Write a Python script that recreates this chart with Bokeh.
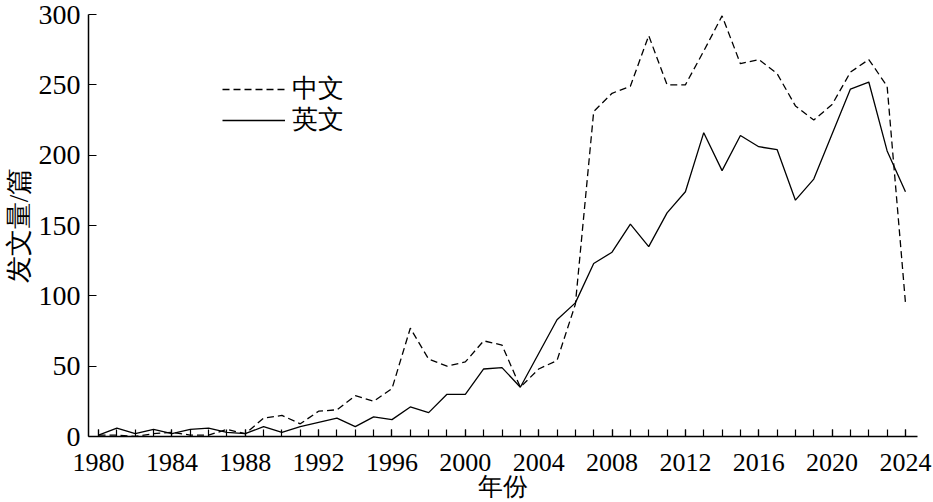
from bokeh.plotting import figure
from bokeh.models import Range1d, SingleIntervalTicker, FixedTicker, Legend, LegendItem
from bokeh.embed import file_html
from bokeh.resources import INLINE

years = list(range(1980, 2025))
cn_counts = [1, 1, 0, 2, 3, 1, 1, 5, 2, 13,
             15, 9, 18, 19, 29, 25, 34, 77, 55, 50,
             53, 68, 65, 35, 48, 54, 94, 231, 244, 249,
             285, 250, 250, 274, 299, 265, 268, 258, 235, 225,
             236, 259, 268, 249, 95]
en_counts = [1, 6, 2, 5, 2, 5, 6, 3, 2, 7,
             3, 7, 10, 13, 7, 14, 12, 21, 17, 30,
             30, 48, 49, 35, 59, 83, 95, 123, 131, 151,
             135, 159, 174, 216, 189, 214, 206, 204, 168, 183,
             215, 247, 252, 203, 174]
y_ticks = [0, 50, 100, 150, 200, 250, 300]
series_names = ["中文", "英文"]
x_title = "年份"
y_title = "发文量/篇"

FONT = "Liberation Serif"

p = figure(width=933, height=502, output_backend="svg", toolbar_location=None,
           x_range=Range1d(1979.453, 2024.656), y_range=Range1d(0, 300),
           min_border_top=14, min_border_right=16, min_border_left=0, min_border_bottom=0)
p.outline_line_color = None
p.xgrid.visible = False
p.ygrid.visible = False
p.background_fill_color = "white"
p.border_fill_color = "white"

r_cn = p.line(years, cn_counts, line_color="black", line_width=1.3, line_dash="7 4")
r_en = p.line(years, en_counts, line_color="black", line_width=1.3)

xa = p.xaxis[0]
xa.ticker = SingleIntervalTicker(interval=4, num_minor_ticks=4)
xa.major_tick_in = 7
xa.major_tick_out = 0
xa.minor_tick_in = 7
xa.minor_tick_out = 0
xa.axis_line_width = 1.5
xa.major_tick_line_width = 1.2
xa.minor_tick_line_width = 1.2
xa.major_label_text_font = FONT
xa.major_label_text_font_size = "26px"
xa.major_label_text_color = "black"
xa.major_label_standoff = 17
xa.axis_label = x_title
xa.axis_label_text_font = FONT
xa.axis_label_text_font_size = "25px"
xa.axis_label_text_font_style = "normal"
xa.axis_label_text_color = "black"
xa.axis_label_standoff = -1

ya = p.yaxis[0]
ya.ticker = FixedTicker(ticks=y_ticks)
ya.major_tick_in = 8
ya.major_tick_out = 0
ya.minor_tick_in = 0
ya.minor_tick_out = 0
ya.axis_line_width = 1.5
ya.major_tick_line_width = 1.2
ya.major_label_text_font = FONT
ya.major_label_text_font_size = "28px"
ya.major_label_text_color = "black"
ya.major_label_standoff = 8
ya.axis_label = y_title
ya.axis_label_text_font = FONT
ya.axis_label_text_font_size = "27px"
ya.axis_label_text_font_style = "normal"
ya.axis_label_text_color = "black"
ya.axis_label_standoff = 2

legend_style = dict(orientation="vertical", glyph_width=63, glyph_height=30, label_standoff=7,
                    label_text_font=FONT, label_text_font_size="26px",
                    label_text_color="black", spacing=0, padding=0, margin=0,
                    border_line_color=None, background_fill_alpha=0)
legend_cn = Legend(items=[LegendItem(label=series_names[0], renderers=[r_cn])],
                   location=(134, 330), **legend_style)
legend_en = Legend(items=[LegendItem(label=series_names[1], renderers=[r_en])],
                   location=(134, 299), **legend_style)
p.add_layout(legend_cn, "center")
p.add_layout(legend_en, "center")

open("out.html", "w").write(file_html(p, INLINE))
